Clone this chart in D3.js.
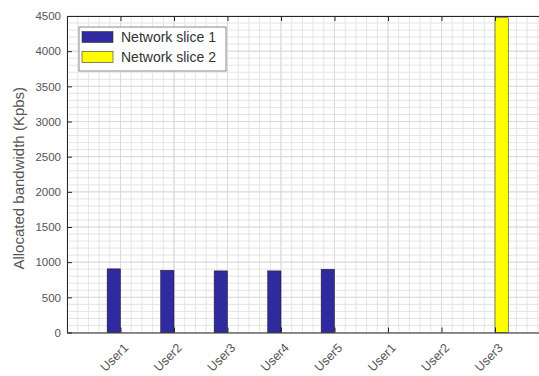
<!DOCTYPE html>
<html>
<head>
<meta charset="utf-8">
<script src="https://cdn.jsdelivr.net/npm/d3@7"></script>
<style>
  html, body { margin: 0; padding: 0; background: #fff; }
  svg { display: block; font-family: "Liberation Sans", Arial, Helvetica, sans-serif; }
</style>
</head>
<body>
<svg id="chart" width="539" height="376"></svg>
<script>
// Allocated bandwidth per user, per network slice
const users = ["User1", "User2", "User3", "User4", "User5", "User1", "User2", "User3"];
const slice1 = [905, 885, 876, 876, 900, 0, 0, 0];
const slice2 = [0, 0, 0, 0, 0, 0, 0, 4475];
const seriesNames = ["Network slice 1", "Network slice 2"];
const seriesColors = ["#2f2a9e", "#ffff00"];
const yTicks = [0, 500, 1000, 1500, 2000, 2500, 3000, 3500, 4000, 4500];

const svg = d3.select("#chart");
const margin = { left: 67, top: 16, bottom: 43.5 };
const plotW = 481.5;           // axis spans past the right edge of the canvas
const plotH = 376 - margin.top - margin.bottom;

const g = svg.append("g").attr("transform", `translate(${margin.left},${margin.top})`);

// Numeric x: categories at 1..8, domain padded by one slot each side
const x = d3.scaleLinear().domain([0, users.length + 1]).range([0, plotW]);
const y = d3.scaleLinear().domain([0, 4500]).range([plotH, 0]);

// Minor grid
const xMinor = d3.range(0, users.length + 1 + 1e-9, 0.2);
const yMinor = d3.range(0, 4500 + 1e-9, 100);
g.append("g").selectAll("line").data(xMinor).join("line")
  .attr("x1", d => x(d)).attr("x2", d => x(d))
  .attr("y1", 0).attr("y2", plotH)
  .attr("stroke", "#dedede").attr("stroke-width", 0.8);
g.append("g").selectAll("line").data(yMinor).join("line")
  .attr("x1", 0).attr("x2", plotW)
  .attr("y1", d => y(d)).attr("y2", d => y(d))
  .attr("stroke", "#dedede").attr("stroke-width", 0.8);

// Major grid
g.append("g").selectAll("line").data(d3.range(1, users.length + 1)).join("line")
  .attr("x1", d => x(d)).attr("x2", d => x(d))
  .attr("y1", 0).attr("y2", plotH)
  .attr("stroke", "#d8d8d8").attr("stroke-width", 0.9);
g.append("g").selectAll("line").data(yTicks).join("line")
  .attr("x1", 0).attr("x2", plotW)
  .attr("y1", d => y(d)).attr("y2", d => y(d))
  .attr("stroke", "#d8d8d8").attr("stroke-width", 0.9);

// Grouped bars
const slot = x(1) - x(0);
const barW = slot * 0.25;
const series = [slice1, slice2];
series.forEach((vals, si) => {
  g.append("g").selectAll("rect")
    .data(vals.map((v, i) => ({ v, i })))
    .join("rect")
    .attr("x", d => x(d.i + 1) - barW + si * barW)
    .attr("y", d => y(d.v))
    .attr("width", barW)
    .attr("height", d => y(0) - y(d.v))
    .attr("fill", seriesColors[si])
    .attr("stroke", "#1a1a1a")
    .attr("stroke-width", 0.5);
});

// Axes
const axisColor = "#262626";
const tickColor = "#555";
const xAxis = d3.axisBottom(x).tickValues(d3.range(1, users.length + 1))
  .tickFormat(d => users[d - 1]).tickSizeInner(-5).tickSizeOuter(0);
const xg = g.append("g").attr("transform", `translate(0,${plotH})`).call(xAxis);
xg.select(".domain").attr("stroke", axisColor);
xg.selectAll(".tick line").attr("stroke", axisColor);
xg.selectAll(".tick text")
  .attr("fill", tickColor).attr("font-size", 12.5)
  .attr("text-anchor", "end")
  .attr("transform", "translate(2,10) rotate(-45)")
  .attr("dy", "0.7em").attr("y", 0).attr("x", 0);

const xTop = d3.axisTop(x).tickValues(d3.range(1, users.length + 1))
  .tickFormat("").tickSizeInner(-5).tickSizeOuter(0);
const xtg = g.append("g").call(xTop);
xtg.select(".domain").attr("stroke", axisColor);
xtg.selectAll(".tick line").attr("stroke", axisColor);

const yAxis = d3.axisLeft(y).tickValues(yTicks).tickFormat(d3.format("d"))
  .tickSizeInner(-5).tickSizeOuter(0).tickPadding(6);
const yg = g.append("g").call(yAxis);
yg.select(".domain").attr("stroke", axisColor);
yg.selectAll(".tick line").attr("stroke", axisColor);
yg.selectAll(".tick text").attr("fill", tickColor).attr("font-size", 11.5);

// Y-axis title
svg.append("text")
  .attr("transform", `translate(24,${margin.top + plotH / 2 + 4}) rotate(-90)`)
  .attr("text-anchor", "middle")
  .attr("fill", tickColor).attr("font-size", 15)
  .text("Allocated bandwidth (Kpbs)");

// Legend
const lg = svg.append("g").attr("transform", "translate(79,27)");
lg.append("rect").attr("width", 147).attr("height", 44)
  .attr("fill", "#fff").attr("stroke", "#8a8a8a").attr("stroke-width", 1);
seriesNames.forEach((name, i) => {
  lg.append("rect").attr("x", 3).attr("y", 4.5 + i * 20).attr("width", 31).attr("height", 11)
    .attr("fill", seriesColors[i]).attr("stroke", "#333").attr("stroke-width", 0.6);
  lg.append("text").attr("x", 42).attr("y", 15 + i * 20)
    .attr("fill", "#333").attr("font-size", 14).text(name);
});
</script>
</body>
</html>
